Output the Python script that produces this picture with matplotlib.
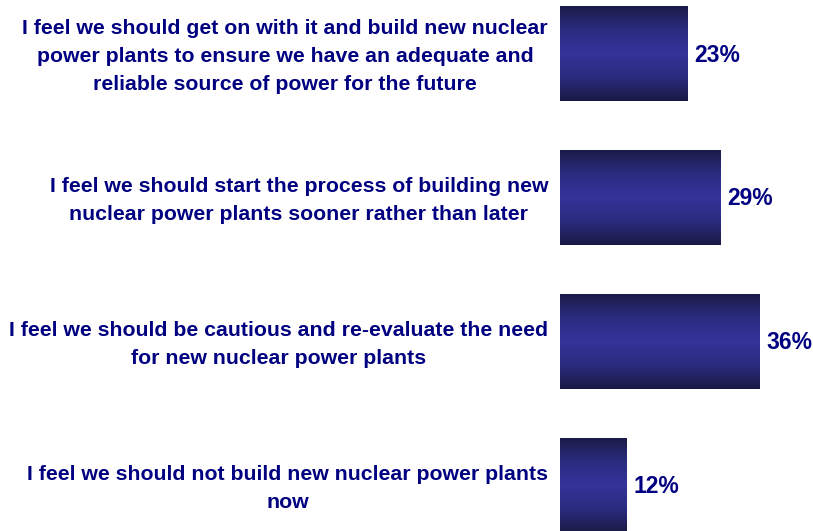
import numpy as np
import matplotlib.pyplot as plt
from matplotlib.colors import LinearSegmentedColormap

labels = [
    'I feel we should get on with it and build new nuclear\npower plants to ensure we have an adequate and\nreliable source of power for the future',
    'I feel we should start the process of building new\nnuclear power plants sooner rather than later',
    'I feel we should be cautious and re-evaluate the need\nfor new nuclear power plants',
    'I feel we should not build new nuclear power plants\nnow',
]
values = [23, 29, 36, 12]
value_labels = ['23%', '29%', '36%', '12%']

navy = '#000080'
plt.rcParams['font.family'] = ['Liberation Sans', 'DejaVu Sans']

fig = plt.figure(figsize=(8.13, 5.31), dpi=100)
ax = fig.add_axes([560 / 813, 0, 253 / 813, 1])

# gradient: dark at top and bottom, lighter blue in the middle
cmap = LinearSegmentedColormap.from_list('bar', ['#1a1a44', '#2b2b80', '#34349a', '#2b2b80', '#1a1a44'])
grad = np.linspace(0, 1, 256).reshape(-1, 1)

bar_h = 0.66
y = np.arange(len(values))
bars = ax.barh(y, values, height=bar_h, color='none', edgecolor='none')
for b in bars:
    x0, y0 = b.get_x(), b.get_y()
    w, h = b.get_width(), b.get_height()
    im = ax.imshow(grad, cmap=cmap, aspect='auto', extent=[x0, x0 + w, y0 + h, y0],
                   interpolation='bicubic', zorder=2)
    im.set_clip_path(b)

ax.set_xlim(0, 253 / 5.55)
ax.set_ylim(3.316, -0.372)
ax.axis('off')

# value labels just right of each bar
for yi, v, t in zip(y, values, value_labels):
    ax.text(v + 1.2, yi + 0.01, t, ha='left', va='center', fontsize=16.5,
            fontweight='bold', color=navy)

# category labels, right edge just left of the bars, lines centred
for yi, t in zip(y, labels):
    ax.text(-0.047, yi + 0.02, t, transform=ax.get_yaxis_transform(), ha='right', va='center',
            multialignment='center', fontsize=15.3, fontweight='bold', color=navy,
            linespacing=1.6)

fig.savefig('out.png', dpi=100)
